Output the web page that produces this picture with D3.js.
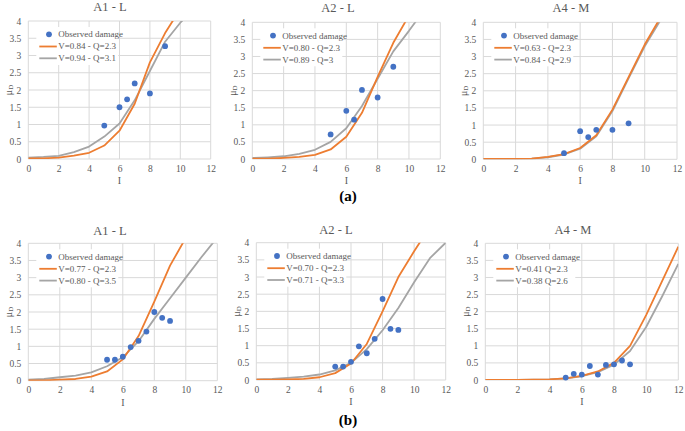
<!DOCTYPE html>
<html>
<head>
<meta charset="utf-8">
<script src="https://cdn.jsdelivr.net/npm/d3@7"></script>
<style>
body { margin: 0; background: #fff; }
svg { display: block; }
</style>
</head>
<body>
<svg id="chart" width="685" height="431"></svg>
<script>
var ORANGE = "#ED7D31";
var GRAY = "#A5A5A5";
var BLUE = "#4472C4";
var GRID = "#D9D9D9";
var FONT = "'Liberation Serif', 'Times New Roman', serif";

var iValues = [0, 1, 2, 3, 4, 5, 6, 7, 8, 9, 10, 11, 12];
var xTicks = [0, 2, 4, 6, 8, 10, 12];
var yTicks = [0, 0.5, 1, 1.5, 2, 2.5, 3, 3.5, 4];
var yTickLabels = ["0", "0.5", "1", "1.5", "2", "2.5", "3", "3.5", "4"];
var obsLabel = "Observed damage";

// (a) A1 - L
var a1TopObsI = [5, 6, 6.5, 7, 8, 9];
var a1TopObsMu = [0.97, 1.5, 1.73, 2.19, 1.9, 3.27];
var a1TopOrange = [0.02, 0.02, 0.04, 0.1, 0.18, 0.39, 0.82, 1.6, 2.8, 3.65, 4.35];
var a1TopGray = [0.04, 0.06, 0.09, 0.2, 0.36, 0.65, 1.03, 1.7, 2.55, 3.4, 3.95, 4.4];
var a1TopNames = ["V=0.84 - Q=2.3", "V=0.94 - Q=3.1"];

// (a) A2 - L
var a2TopObsI = [5, 6, 6.5, 7, 8, 9];
var a2TopObsMu = [0.72, 1.41, 1.15, 2.02, 1.8, 2.7];
var a2TopOrange = [0.01, 0.01, 0.03, 0.06, 0.12, 0.28, 0.65, 1.35, 2.4, 3.4, 4.2];
var a2TopGray = [0.03, 0.05, 0.08, 0.15, 0.27, 0.5, 0.9, 1.55, 2.35, 3.15, 3.75, 4.38];
var a2TopNames = ["V=0.80 - Q=2.3", "V=0.89 - Q=3"];

// (a) A4 - M
var a4TopObsI = [5, 6, 6.5, 7, 8, 9];
var a4TopObsMu = [0.18, 0.82, 0.65, 0.86, 0.86, 1.05];
var a4TopOrange = [0.01, 0.01, 0.01, 0.02, 0.07, 0.15, 0.33, 0.7, 1.45, 2.4, 3.35, 4.16];
var a4TopGray = [0.01, 0.01, 0.01, 0.02, 0.06, 0.14, 0.31, 0.67, 1.41, 2.36, 3.3, 4.08];
var a4TopNames = ["V=0.63 - Q=2.3", "V=0.84 - Q=2.9"];

// (b) A1 - L
var a1BotObsI = [5, 5.5, 6, 6.5, 7, 7.5, 8, 8.5, 9];
var a1BotObsMu = [0.61, 0.61, 0.7, 0.98, 1.16, 1.43, 2.0, 1.83, 1.74];
var a1BotOrange = [0.01, 0.01, 0.03, 0.05, 0.12, 0.27, 0.62, 1.3, 2.3, 3.35, 4.16];
var a1BotGray = [0.03, 0.05, 0.1, 0.15, 0.24, 0.42, 0.68, 1.15, 1.8, 2.4, 3.0, 3.6, 4.17];
var a1BotNames = ["V=0.77 - Q=2.3", "V=0.80 - Q=3.5"];

// (b) A2 - L
var a2BotObsI = [5, 5.5, 6, 6.5, 7, 7.5, 8, 8.5, 9];
var a2BotObsMu = [0.39, 0.39, 0.53, 0.98, 0.78, 1.2, 2.36, 1.49, 1.46];
var a2BotOrange = [0.01, 0.01, 0.02, 0.03, 0.08, 0.2, 0.48, 1.05, 2.0, 3.0, 3.75, 4.46];
var a2BotGray = [0.02, 0.03, 0.06, 0.1, 0.16, 0.28, 0.5, 0.9, 1.45, 2.1, 2.85, 3.55, 4.0];
var a2BotNames = ["V=0.70 - Q=2.3", "V=0.71 - Q=3.3"];

// (b) A4 - M
var a4BotObsI = [5, 5.5, 6, 6.5, 7, 7.5, 8, 8.5, 9];
var a4BotObsMu = [0.07, 0.18, 0.16, 0.41, 0.16, 0.44, 0.46, 0.57, 0.46];
var a4BotOrange = [0, 0, 0, 0.01, 0.02, 0.05, 0.12, 0.25, 0.5, 1.0, 1.9, 2.9, 3.9];
var a4BotGray = [0, 0, 0, 0.01, 0.02, 0.05, 0.11, 0.23, 0.45, 0.85, 1.55, 2.45, 3.4];
var a4BotNames = ["V=0.41 Q=2.3", "V=0.38 Q=2.6"];

// plot boxes: left, right, top, bottom (pixel layout only)
var panels = [
    {title: "A1 - L", tx: 110, ty: 11, box: [28.3, 210.7, 21, 159], obsI: a1TopObsI, obsMu: a1TopObsMu, orange: a1TopOrange, gray: a1TopGray, names: a1TopNames},
    {title: "A2 - L", tx: 338, ty: 12, box: [252.3, 440.3, 22.3, 159], obsI: a2TopObsI, obsMu: a2TopObsMu, orange: a2TopOrange, gray: a2TopGray, names: a2TopNames},
    {title: "A4 - M", tx: 571, ty: 12, box: [483.3, 677, 22.3, 159.3], obsI: a4TopObsI, obsMu: a4TopObsMu, orange: a4TopOrange, gray: a4TopGray, names: a4TopNames},
    {title: "A1 - L", tx: 110, ty: 235, box: [28.3, 217.3, 243.3, 380.7], obsI: a1BotObsI, obsMu: a1BotObsMu, orange: a1BotOrange, gray: a1BotGray, names: a1BotNames},
    {title: "A2 - L", tx: 336, ty: 234, box: [256.3, 445.7, 242.7, 380], obsI: a2BotObsI, obsMu: a2BotObsMu, orange: a2BotOrange, gray: a2BotGray, names: a2BotNames},
    {title: "A4 - M", tx: 573, ty: 234, box: [485.3, 678.3, 243.3, 380], obsI: a4BotObsI, obsMu: a4BotObsMu, orange: a4BotOrange, gray: a4BotGray, names: a4BotNames}
];

function drawPanel(svg, p, idx) {
    let x = d3.scaleLinear().domain([0, 12]).range([p.box[0], p.box[1]]);
    let y = d3.scaleLinear().domain([0, 4]).range([p.box[3], p.box[2]]);
    let g = svg.append("g");

    // gridlines
    g.append("g").selectAll("line").data(yTicks).enter().append("line")
        .attr("x1", x(0)).attr("x2", x(12))
        .attr("y1", d => y(d)).attr("y2", d => y(d))
        .attr("stroke", GRID).attr("stroke-width", 1);
    g.append("g").selectAll("line").data(xTicks).enter().append("line")
        .attr("y1", y(0)).attr("y2", y(4))
        .attr("x1", d => x(d)).attr("x2", d => x(d))
        .attr("stroke", GRID).attr("stroke-width", 1);

    // axes (labels only, Excel style)
    let xAxis = d3.axisBottom(x).tickValues(xTicks).tickSize(0).tickPadding(6);
    let yAxis = d3.axisLeft(y).tickValues(yTicks).tickSize(0).tickPadding(7)
        .tickFormat((d, i) => yTickLabels[i]);
    g.append("g").attr("transform", "translate(0," + y(0) + ")").call(xAxis)
        .call(a => a.select(".domain").remove());
    g.append("g").attr("transform", "translate(" + x(0) + ",0)").call(yAxis)
        .call(a => a.select(".domain").remove());
    g.selectAll(".tick text").attr("font-family", FONT).attr("font-size", 9.5).attr("fill", "#595959");

    // curves, clipped to plot area
    let clipId = "clip" + idx;
    svg.append("clipPath").attr("id", clipId).append("rect")
        .attr("x", x(0)).attr("y", y(4)).attr("width", x(12) - x(0)).attr("height", y(0) - y(4));
    let line = d3.line().x(d => x(d[0])).y(d => y(d[1]));
    [[p.gray, GRAY], [p.orange, ORANGE]].forEach(s => {
        let pts = s[0].map((v, i) => [iValues[i], v]);
        g.append("path").attr("d", line(pts)).attr("fill", "none")
            .attr("stroke", s[1]).attr("stroke-width", 1.8)
            .attr("stroke-linejoin", "round")
            .attr("clip-path", "url(#" + clipId + ")");
    });

    // observed points
    g.append("g").selectAll("circle").data(p.obsI).enter().append("circle")
        .attr("cx", d => x(d)).attr("cy", (d, i) => y(p.obsMu[i]))
        .attr("r", 2.9).attr("fill", BLUE);

    // legend
    let lx = x(0), ly = y(4);
    let leg = g.append("g");
    leg.append("rect").attr("x", lx + 8).attr("y", ly + 6).attr("width", 82).attr("height", 38).attr("fill", "#fff");
    leg.append("circle").attr("cx", lx + 20.7).attr("cy", ly + 13.3).attr("r", 2.9).attr("fill", BLUE);
    leg.append("line").attr("x1", lx + 11).attr("x2", lx + 28.5).attr("y1", ly + 25.5).attr("y2", ly + 25.5)
        .attr("stroke", ORANGE).attr("stroke-width", 1.8);
    leg.append("line").attr("x1", lx + 11).attr("x2", lx + 28.5).attr("y1", ly + 37.3).attr("y2", ly + 37.3)
        .attr("stroke", GRAY).attr("stroke-width", 1.8);
    [obsLabel, p.names[0], p.names[1]].forEach((t, i) => {
        leg.append("text").attr("x", lx + 30).attr("y", ly + 13.3 + i * 12).attr("dy", "0.35em")
            .attr("font-family", FONT).attr("font-size", 9).attr("fill", "#595959").text(t);
    });

    // title
    g.append("text").attr("x", p.tx).attr("y", p.ty).attr("text-anchor", "middle")
        .attr("font-family", FONT).attr("font-size", 12.5).attr("fill", "#595959").text(p.title);

    // axis titles
    g.append("text").attr("x", x(6)).attr("y", y(0) + 25).attr("text-anchor", "middle")
        .attr("font-family", FONT).attr("font-size", 10).attr("fill", "#595959").text("I");
    let yl = g.append("text")
        .attr("transform", "translate(" + (x(0) - 20) + "," + ((y(0) + y(4)) / 2) + ") rotate(-90)")
        .attr("text-anchor", "middle").attr("dy", "0.35em")
        .attr("font-family", FONT).attr("font-size", 10).attr("fill", "#595959");
    yl.append("tspan").text("μ");
    yl.append("tspan").attr("font-size", 7).attr("baseline-shift", "-20%").text("D");
}

document.addEventListener("DOMContentLoaded", () => {
    let svg = d3.select("#chart");
    svg.append("rect").attr("width", 685).attr("height", 431).attr("fill", "#fff");
    panels.forEach((p, i) => drawPanel(svg, p, i));

    svg.append("text").attr("x", 348).attr("y", 201).attr("text-anchor", "middle")
        .attr("font-family", FONT).attr("font-weight", "bold").attr("font-size", 15).attr("fill", "#000").text("(a)");
    svg.append("text").attr("x", 348).attr("y", 425).attr("text-anchor", "middle")
        .attr("font-family", FONT).attr("font-weight", "bold").attr("font-size", 15).attr("fill", "#000").text("(b)");
});
</script>
</body>
</html>
